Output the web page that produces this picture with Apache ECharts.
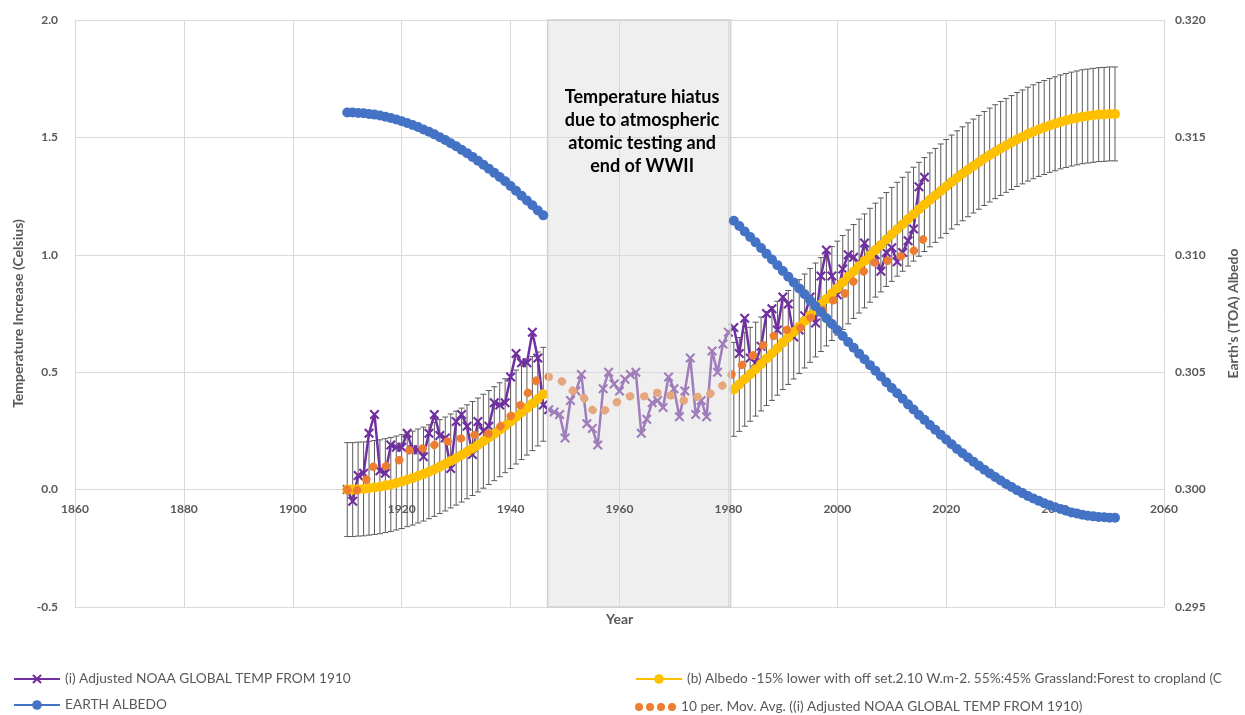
<!DOCTYPE html>
<html>
<head>
<meta charset="utf-8">
<script src="https://cdn.jsdelivr.net/npm/echarts@6/dist/echarts.min.js"></script>
<style>
  html, body { margin: 0; padding: 0; background: #ffffff; }
  #chart { width: 1245px; height: 715px; }
</style>
</head>
<body>
<div id="chart"></div>
<script>
// ---- Observed temperature (adjusted so 1910 = 0), one value per year from 1910
const noaaFirstYear = 1910;
const noaaTemp = [
  0.00, -0.05, 0.06, 0.07, 0.24, 0.32, 0.08, 0.07, 0.19, 0.18,
  0.18, 0.24, 0.17, 0.17, 0.14, 0.24, 0.32, 0.23, 0.22, 0.09,
  0.29, 0.32, 0.27, 0.15, 0.29, 0.25, 0.27, 0.37, 0.36, 0.37,
  0.48, 0.58, 0.54, 0.54, 0.67, 0.56, 0.36, 0.34, 0.33, 0.32,
  0.22, 0.38, 0.42, 0.49, 0.28, 0.26, 0.19, 0.43, 0.50, 0.45,
  0.42, 0.47, 0.49, 0.50, 0.24, 0.30, 0.37, 0.38, 0.35, 0.48,
  0.43, 0.31, 0.42, 0.56, 0.32, 0.38, 0.31, 0.59, 0.50, 0.62,
  0.67, 0.69, 0.58, 0.73, 0.56, 0.54, 0.61, 0.75, 0.77, 0.68,
  0.82, 0.79, 0.65, 0.68, 0.74, 0.82, 0.71, 0.91, 1.02, 0.91,
  0.83, 0.94, 1.00, 0.99, 0.96, 1.05, 0.99, 1.00, 0.93, 1.01,
  1.03, 0.97, 1.01, 1.06, 1.11, 1.29, 1.33
];

// ---- 10-period trailing moving average of the observed series
const noaaMovAvg = [
  0.000, -0.025, 0.003, 0.020, 0.064, 0.107, 0.103, 0.099, 0.109, 0.116,
  0.134, 0.163, 0.174, 0.184, 0.174, 0.166, 0.190, 0.206, 0.209, 0.200,
  0.211, 0.219, 0.229, 0.227, 0.242, 0.243, 0.238, 0.252, 0.266, 0.294,
  0.313, 0.339, 0.366, 0.405, 0.443, 0.474, 0.483, 0.480, 0.477, 0.472,
  0.446, 0.426, 0.414, 0.409, 0.370, 0.340, 0.323, 0.332, 0.349, 0.362,
  0.382, 0.391, 0.398, 0.399, 0.395, 0.399, 0.417, 0.412, 0.397, 0.400,
  0.401, 0.385, 0.378, 0.384, 0.392, 0.400, 0.394, 0.415, 0.430, 0.444,
  0.468, 0.506, 0.522, 0.539, 0.563, 0.579, 0.609, 0.625, 0.652, 0.658,
  0.673, 0.683, 0.690, 0.685, 0.703, 0.731, 0.741, 0.757, 0.782, 0.805,
  0.806, 0.821, 0.856, 0.887, 0.909, 0.932, 0.960, 0.969, 0.960, 0.970,
  0.990, 0.993, 0.994, 1.001, 1.016, 1.040, 1.074
];

// ---- Model runs: 1910-1946, then resumed 1981-2051 after the hiatus
const modelYearsPre = [1910, 1946];
const modelYearsPost = [1981, 2051];

// (b) modelled temperature increase, Celsius
const modelTempPre = [
  0.000, 0.000, 0.002, 0.003, 0.006, 0.009, 0.012, 0.017, 0.022, 0.028,
  0.034, 0.042, 0.049, 0.058, 0.066, 0.076, 0.086, 0.098, 0.109, 0.122,
  0.134, 0.147, 0.161, 0.175, 0.190, 0.206, 0.222, 0.238, 0.255, 0.272,
  0.290, 0.309, 0.328, 0.347, 0.366, 0.386, 0.406
];
const modelTempPost = [
  0.427, 0.448, 0.470,
  0.491, 0.513, 0.535, 0.558, 0.580, 0.602, 0.626, 0.648, 0.671, 0.694,
  0.718, 0.742, 0.765, 0.788, 0.812, 0.835, 0.858, 0.882, 0.906, 0.929,
  0.952, 0.974, 0.998, 1.020, 1.042, 1.065, 1.087, 1.109, 1.130, 1.152,
  1.173, 1.194, 1.214, 1.234, 1.253, 1.272, 1.291, 1.310, 1.328, 1.345,
  1.362, 1.378, 1.394, 1.410, 1.425, 1.439, 1.453, 1.466, 1.478, 1.491,
  1.502, 1.514, 1.524, 1.534, 1.542, 1.551, 1.558, 1.566, 1.572, 1.578,
  1.583, 1.588, 1.591, 1.594, 1.597, 1.598, 1.600, 1.600
];
const modelTempError = 0.2;

// Earth albedo (top of atmosphere), right axis
const albedoPre = [
  0.31606, 0.31606, 0.31604, 0.31603, 0.31600, 0.31597, 0.31593, 0.31588, 0.31583, 0.31576,
  0.31569, 0.31561, 0.31553, 0.31544, 0.31534, 0.31524, 0.31513, 0.31501, 0.31489, 0.31475,
  0.31462, 0.31447, 0.31433, 0.31417, 0.31401, 0.31384, 0.31367, 0.31349, 0.31331, 0.31313,
  0.31293, 0.31273, 0.31252, 0.31231, 0.31211, 0.31189, 0.31168
];
const albedoPost = [
  0.31145, 0.31123, 0.31099,
  0.31076, 0.31053, 0.31029, 0.31004, 0.30980, 0.30956, 0.30931, 0.30907, 0.30882, 0.30857,
  0.30832, 0.30806, 0.30781, 0.30756, 0.30730, 0.30705, 0.30680, 0.30654, 0.30629, 0.30604,
  0.30579, 0.30555, 0.30530, 0.30506, 0.30482, 0.30457, 0.30433, 0.30410, 0.30387, 0.30363,
  0.30341, 0.30318, 0.30297, 0.30275, 0.30255, 0.30234, 0.30213, 0.30193, 0.30173, 0.30155,
  0.30137, 0.30119, 0.30102, 0.30085, 0.30069, 0.30054, 0.30039, 0.30024, 0.30011, 0.29997,
  0.29985, 0.29973, 0.29962, 0.29952, 0.29942, 0.29933, 0.29925, 0.29917, 0.29910, 0.29903,
  0.29898, 0.29893, 0.29889, 0.29886, 0.29883, 0.29882, 0.29880, 0.29880
];

// Shaded hiatus period and its note
const hiatusRange = [1946.8, 1980.4];
const hiatusNote = 'Temperature hiatus\ndue to atmospheric\natomic testing and\nend of WWII';

// Axis ticks
const xTicks = { min: 1860, max: 2060, step: 20 };
const tempTicks = { min: -0.5, max: 2.0, step: 0.5 };
const albedoTicks = { min: 0.295, max: 0.320, step: 0.005 };

// Series names
const NAME_NOAA = '(i) Adjusted NOAA GLOBAL TEMP FROM 1910';
const NAME_ALBEDO = 'EARTH ALBEDO';
const NAME_MODEL = '(b) Albedo -15% lower with off set.2.10 W.m-2. 55%:45% Grassland:Forest to cropland (C';
const NAME_MA = '10 per. Mov. Avg. ((i) Adjusted NOAA GLOBAL TEMP FROM 1910)';

// ---- helpers
function years(range) {
  const out = [];
  for (let y = range[0]; y <= range[1]; y++) out.push(y);
  return out;
}
function zip(xs, ys) { return xs.map((x, i) => [x, ys[i]]); }

const noaaYears = noaaTemp.map((_, i) => noaaFirstYear + i);
const preYears = years(modelYearsPre);
const postYears = years(modelYearsPost);
const gapYear = (modelYearsPre[1] + modelYearsPost[0]) / 2;

// a '-' point breaks the line across the hiatus
const modelTempData = zip(preYears, modelTempPre).concat([[gapYear, '-']], zip(postYears, modelTempPost));
const albedoData = zip(preYears, albedoPre).concat([[gapYear, '-']], zip(postYears, albedoPost));
const errorData = zip(preYears, modelTempPre).concat(zip(postYears, modelTempPost));

const FONT = 'Lato, "Open Sans", sans-serif';
const GREY = '#595959';
const GRID = '#d9d9d9';
const CROSS = 'path://M0,1.5L1.5,0L5,3.5L8.5,0L10,1.5L6.5,5L10,8.5L8.5,10L5,6.5L1.5,10L0,8.5L3.5,5Z';
// four round dots for the moving-average legend key
const DOTS = 'path://M0,4a4,4 0 1,0 8,0a4,4 0 1,0 -8,0Z' +
  'M11,4a4,4 0 1,0 8,0a4,4 0 1,0 -8,0Z' +
  'M22,4a4,4 0 1,0 8,0a4,4 0 1,0 -8,0Z' +
  'M33,4a4,4 0 1,0 8,0a4,4 0 1,0 -8,0Z';

// plot box
const W = 1245, H = 715;
const gridBox = { left: 75, right: 81, top: 20, bottom: 108 };
const plotHeight = H - gridBox.top - gridBox.bottom;
// the year axis sits on the 0 °C line
const xAxisRaise = plotHeight * (0 - tempTicks.min) / (tempTicks.max - tempTicks.min);

const legendText = { fontFamily: FONT, fontSize: 13.7, color: GREY };
function legendRow(data, left, top, extra) {
  return Object.assign({
    data: [data], orient: 'horizontal', left: left, top: top,
    itemWidth: 46, itemHeight: 12, selectedMode: false, textStyle: legendText
  }, extra || {});
}

const yearAxisBase = {
  type: 'value', min: xTicks.min, max: xTicks.max, interval: xTicks.step,
  position: 'bottom', offset: -xAxisRaise
};

const chart = echarts.init(document.getElementById('chart'), null, { renderer: 'canvas' });

chart.setOption({
  animation: false,
  backgroundColor: '#ffffff',
  grid: Object.assign({ containLabel: false, outerBoundsMode: 'none' }, gridBox),
  legend: [
    legendRow(NAME_NOAA, 8, 667),
    legendRow(NAME_ALBEDO, 8, 693),
    legendRow(NAME_MODEL, 630, 667),
    legendRow({ name: NAME_MA, icon: DOTS }, 630, 695,
      { itemWidth: 41, itemHeight: 8, itemStyle: { color: '#ed7d31' } })
  ],
  graphic: [
    {
      type: 'text', left: 606, top: 612,
      style: { text: 'Year', font: 'bold 14px ' + FONT, fill: GREY }
    }
  ],
  xAxis: [
    // grid lines and the zero line
    Object.assign({}, yearAxisBase, {
      axisLine: { show: true, onZero: false, lineStyle: { color: GRID, width: 1 } },
      axisTick: { show: false },
      axisLabel: { show: false },
      splitLine: { show: true, lineStyle: { color: GRID, width: 1 } }
    }),
    // year labels, kept above the hiatus band
    Object.assign({}, yearAxisBase, {
      z: 11,
      axisLine: { show: false }, axisTick: { show: false },
      axisLabel: { color: GREY, fontWeight: 'bold', fontSize: 12, fontFamily: FONT, margin: 14,
        formatter: v => String(v) },
      splitLine: { show: false }
    })
  ],
  yAxis: [
    {
      type: 'value', position: 'left',
      min: tempTicks.min, max: tempTicks.max, interval: tempTicks.step,
      name: 'Temperature Increase (Celsius)', nameLocation: 'middle', nameGap: 50,
      nameTextStyle: { color: GREY, fontWeight: 'bold', fontSize: 14, fontFamily: FONT },
      axisLine: { show: false }, axisTick: { show: false },
      axisLabel: { color: GREY, fontWeight: 'bold', fontSize: 12, fontFamily: FONT, margin: 17,
        formatter: v => v.toFixed(1) },
      splitLine: { show: true, lineStyle: { color: GRID, width: 1 } }
    },
    {
      type: 'value', position: 'right',
      min: albedoTicks.min, max: albedoTicks.max, interval: albedoTicks.step,
      name: "Earth's (TOA) Albedo", nameLocation: 'middle', nameGap: 62,
      nameTextStyle: { color: GREY, fontWeight: 'bold', fontSize: 14, fontFamily: FONT },
      axisLine: { show: false }, axisTick: { show: false },
      axisLabel: { color: GREY, fontWeight: 'bold', fontSize: 12, fontFamily: FONT, margin: 11,
        formatter: v => v.toFixed(3) },
      splitLine: { show: false }
    }
  ],
  series: [
    {
      // ±error bars on the modelled temperature
      type: 'custom', name: 'model error', z: 1, silent: true,
      encode: { x: 0, y: 1 },
      data: errorData,
      renderItem: function (params, api) {
        const x = api.value(0), y = api.value(1);
        const top = api.coord([x, y + modelTempError]);
        const bot = api.coord([x, y - modelTempError]);
        const cap = 3;
        const st = { stroke: '#5a5a5a', lineWidth: 1 };
        return {
          type: 'group',
          children: [
            { type: 'line', shape: { x1: top[0], y1: top[1], x2: bot[0], y2: bot[1] }, style: st },
            { type: 'line', shape: { x1: top[0] - cap, y1: top[1], x2: top[0] + cap, y2: top[1] }, style: st },
            { type: 'line', shape: { x1: bot[0] - cap, y1: bot[1], x2: bot[0] + cap, y2: bot[1] }, style: st }
          ]
        };
      }
    },
    {
      name: NAME_NOAA, type: 'line', z: 2,
      data: zip(noaaYears, noaaTemp),
      symbol: CROSS, symbolSize: 10, showSymbol: true,
      itemStyle: { color: '#7030a0' },
      lineStyle: { color: '#7030a0', width: 2.5 }
    },
    {
      name: NAME_MODEL, type: 'line', z: 3,
      data: modelTempData,
      symbol: 'circle', symbolSize: 10, showSymbol: true,
      itemStyle: { color: '#ffc000' },
      lineStyle: { color: '#ffc000', width: 2.5 }
    },
    {
      name: NAME_MA, type: 'line', z: 4,
      data: zip(noaaYears, noaaMovAvg),
      symbol: 'none', showSymbol: false,
      itemStyle: { color: '#ed7d31' },
      lineStyle: { color: '#ed7d31', width: 8, type: [0.5, 14], cap: 'round' }
    },
    {
      name: NAME_ALBEDO, type: 'line', z: 12, yAxisIndex: 1,
      data: albedoData,
      symbol: 'circle', symbolSize: 10, showSymbol: true,
      itemStyle: { color: '#4472c4' },
      lineStyle: { color: '#4472c4', width: 2.5 }
    },
    {
      // translucent hiatus band with its note, drawn over the data
      type: 'custom', name: 'hiatus', z: 10, silent: true,
      encode: { x: [0, 1] },
      data: [hiatusRange],
      renderItem: function (params, api) {
        const cs = params.coordSys;
        const x0 = api.coord([api.value(0), 0])[0];
        const x1 = api.coord([api.value(1), 0])[0];
        return {
          type: 'group',
          children: [
            {
              type: 'rect',
              shape: { x: x0, y: cs.y, width: x1 - x0, height: cs.height },
              style: { fill: 'rgba(220,220,220,0.45)', stroke: '#d0d0d0', lineWidth: 1.5 }
            },
            {
              type: 'text', x: (x0 + x1) / 2 + 3, y: cs.y + 66,
              style: {
                text: hiatusNote, fill: '#000000',
                font: 'bold 18px ' + FONT, lineHeight: 23,
                align: 'center', verticalAlign: 'top'
              }
            }
          ]
        };
      }
    }
  ]
});
</script>
</body>
</html>
